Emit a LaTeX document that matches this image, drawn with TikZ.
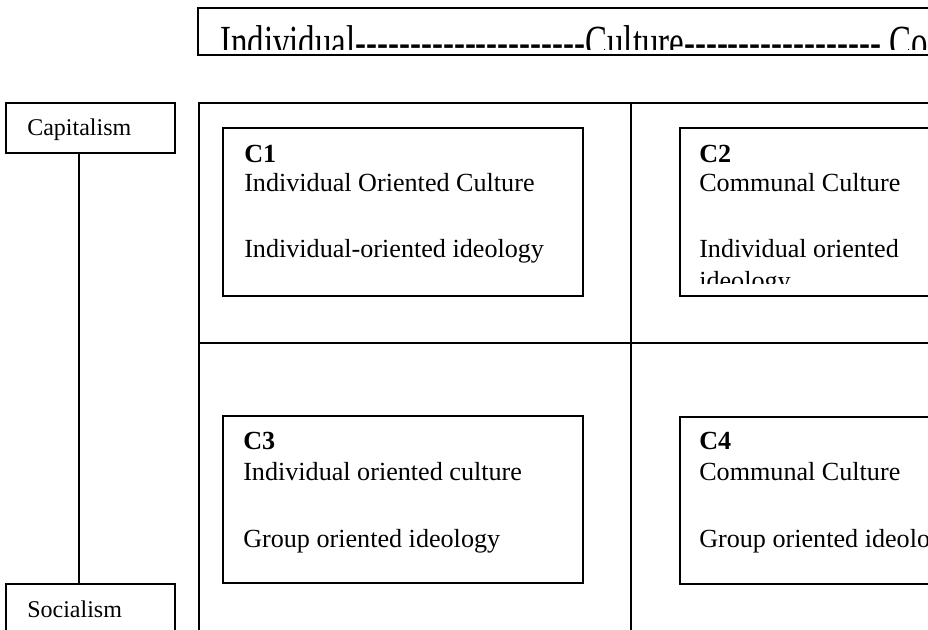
\documentclass[tikz,border=0pt]{standalone}
\usepackage{fontspec}
\setmainfont{Liberation Serif}
\newcommand\hyphens[1]{\foreach \i in {1,...,#1}{\mbox{-}}}
\begin{document}
\begin{tikzpicture}[x=0.75pt,y=-0.75pt,
  frame/.style={draw, line width=1.2pt, inner sep=0pt, anchor=north west},
  celltext/.style={anchor=base west, inner sep=0pt, font=\fontsize{19.6}{23}\selectfont},
  sidetext/.style={anchor=base west, inner sep=0pt, font=\fontsize{18}{21}\selectfont},
  divider/.style={line width=1.2pt}]
\useasboundingbox (0,0) rectangle (928,630);
\clip (0,0) rectangle (928,630);

% banner
\node[frame, minimum width=572.25pt, minimum height=35.25pt] (banner) at (197,7) {};
\begin{scope}
  \clip (197,7) rectangle (928,50);
  \node[anchor=base west, inner sep=0pt, font=\fontsize{34.5}{40}\selectfont] (bannertext) at (220,57.5)
    {\scalebox{0.715}[1]{Individual\hyphens{21}Culture\hyphens{18} Co}};
\end{scope}

% left axis
\node[frame, minimum width=126.75pt, minimum height=37.5pt] (cap) at (5,102) {};
\node[sidetext] (captext) at (27,136) {Capitalism};
\node[frame, minimum width=126.75pt, minimum height=72.75pt] (soc) at (5,583) {};
\node[sidetext] (soctext) at (27,617) {Socialism};
\draw[divider] ([xshift=-8.6pt]cap.south) -- ([xshift=-8.6pt]soc.north);

% grid
\node[frame, minimum width=571.5pt, minimum height=433.5pt] (grid) at (198,102) {};
\draw[divider] (grid.north -| 631,0) -- (grid.south -| 631,0);
\draw[divider] (grid.west |- 0,343) -- (grid.east |- 0,343);

% C1
\node[frame, minimum width=270pt, minimum height=126pt] (c1) at (222,127) {};
\node[celltext] (c1t) at (244,163) {\textbf{C1}};
\node[celltext] (c1a) at (244,192) {Individual Oriented Culture};
\node[celltext] (c1b) at (244,258) {Individual-oriented ideology};

% C2
\node[frame, minimum width=225pt, minimum height=126pt] (c2) at (679,127) {};
\node[celltext] (c2t) at (699,163) {\textbf{C2}};
\node[celltext] (c2a) at (699,192) {Communal Culture};
\begin{scope}
  \clip (679,127) rectangle (928,284);
  \node[celltext] (c2b) at (699,258) {Individual oriented};
  \node[celltext] (c2c) at (699,290) {ideology};
\end{scope}

% C3
\node[frame, minimum width=270pt, minimum height=125.6pt] (c3) at (222,415) {};
\node[celltext] (c3t) at (243,450) {\textbf{C3}};
\node[celltext] (c3a) at (243,481) {Individual oriented culture};
\node[celltext] (c3b) at (243,547) {Group oriented ideology};

% C4
\node[frame, minimum width=225pt, minimum height=125.6pt] (c4) at (679,416) {};
\node[celltext] (c4t) at (699,450) {\textbf{C4}};
\node[celltext] (c4a) at (699,481) {Communal Culture};
\node[celltext] (c4b) at (699,547) {Group oriented ideology};
\end{tikzpicture}
\end{document}
